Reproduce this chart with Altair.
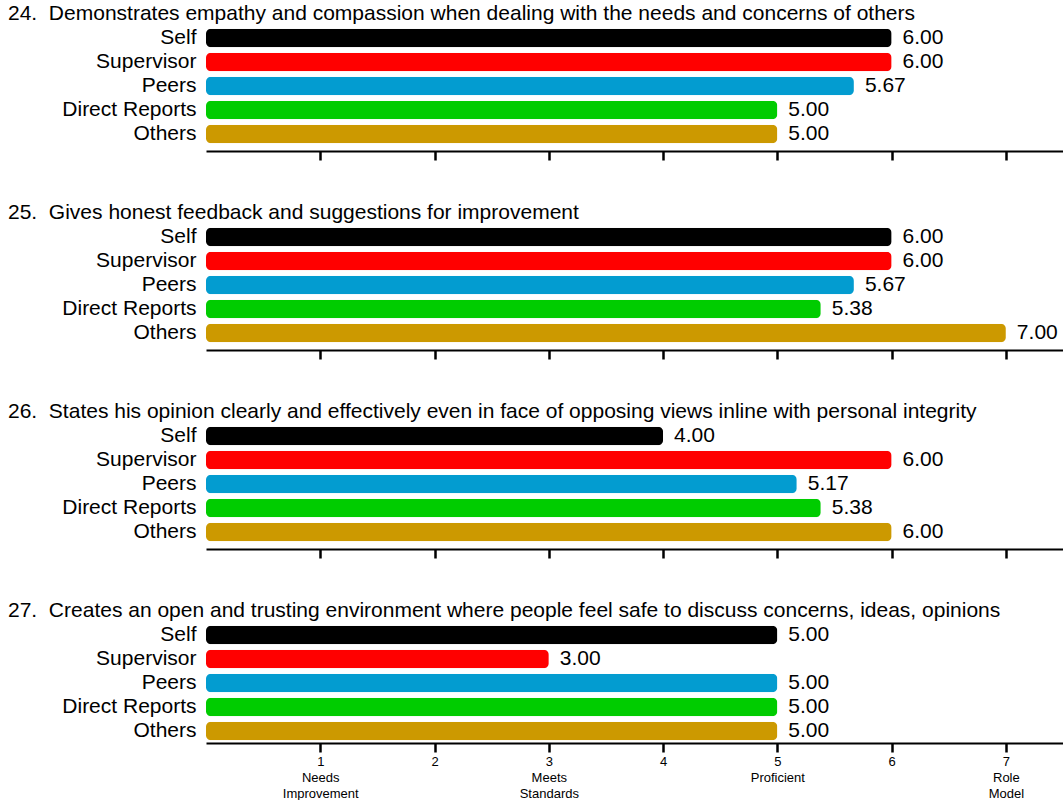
import altair as alt
import pandas as pd

questions = [
    "24.\u00a0 Demonstrates empathy and compassion when dealing with the needs and concerns of others",
    "25.\u00a0 Gives honest feedback and suggestions for improvement",
    "26.\u00a0 States his opinion clearly and effectively even in face of opposing views inline with personal integrity",
    "27.\u00a0 Creates an open and trusting environment where people feel safe to discuss concerns, ideas, opinions",
]
groups = ["Self", "Supervisor", "Peers", "Direct Reports", "Others"]
colors = ["#000000", "#ff0000", "#039cd0", "#00cc00", "#cc9900"]
scores = [
    [6.00, 6.00, 5.67, 5.00, 5.00],
    [6.00, 6.00, 5.67, 5.38, 7.00],
    [4.00, 6.00, 5.17, 5.38, 6.00],
    [5.00, 3.00, 5.00, 5.00, 5.00],
]
tick_values = [1, 2, 3, 4, 5, 6, 7]
tick_names = [["Needs", "Improvement"], [], ["Meets", "Standards"], [], ["Proficient"], [], ["Role", "Model"]]

FONT = "Liberation Sans"
FS = 21

# label expression for the bottom axis (multi-line labels)
parts = []
for v, names in zip(tick_values, tick_names):
    arr = ", ".join("'" + s + "'" for s in [str(v)] + names)
    parts.append(f"datum.value == {v} ? [{arr}]")
label_expr = " : ".join(parts) + " : datum.label"


def panel(i, last):
    df = pd.DataFrame({"group": groups, "value": scores[i]})
    x_axis = alt.Axis(
        values=tick_values, title=None, grid=False, offset=0 if last else 5,
        tickSize=9, tickWidth=2.5, tickColor="black",
        domainWidth=2, domainColor="black",
        labels=last, labelFont=FONT, labelFontSize=13, labelColor="black",
        labelLineHeight=16, labelPadding=3,
        labelExpr=label_expr if last else "''",
    )
    base = alt.Chart(df).encode(
        x=alt.X("value:Q", scale=alt.Scale(domain=[0, 7.5], nice=False, zero=True), axis=x_axis),
        y=alt.Y("group:N", sort=groups,
                scale=alt.Scale(paddingInner=0.23, paddingOuter=0.12),
                axis=alt.Axis(title=None, ticks=False, domain=False, labelPadding=10,
                              labelFont=FONT, labelFontSize=FS, labelColor="black",
                              labelLimit=400)),
    )
    bars = base.mark_bar(cornerRadius=5).encode(
        color=alt.Color("group:N", scale=alt.Scale(domain=groups, range=colors), legend=None)
    )
    text = base.mark_text(align="left", baseline="middle", dx=11, font=FONT, fontSize=FS,
                          color="black").encode(text=alt.Text("value:Q", format=".2f"))
    return (bars + text).properties(
        width=857, height=120,
        title=alt.TitleParams(questions[i], anchor="start", frame="group", dx=-198,
                              font=FONT, fontSize=FS, fontWeight="normal", color="black",
                              baseline="bottom", offset=-19),
    )


chart = alt.vconcat(*[panel(i, i == 3) for i in range(4)], spacing=40).properties(
    padding={"left": 8, "top": 3, "right": 0, "bottom": 0}
).configure_view(stroke=None)

chart.save("out.html", embed_options={"renderer": "svg", "actions": False})
